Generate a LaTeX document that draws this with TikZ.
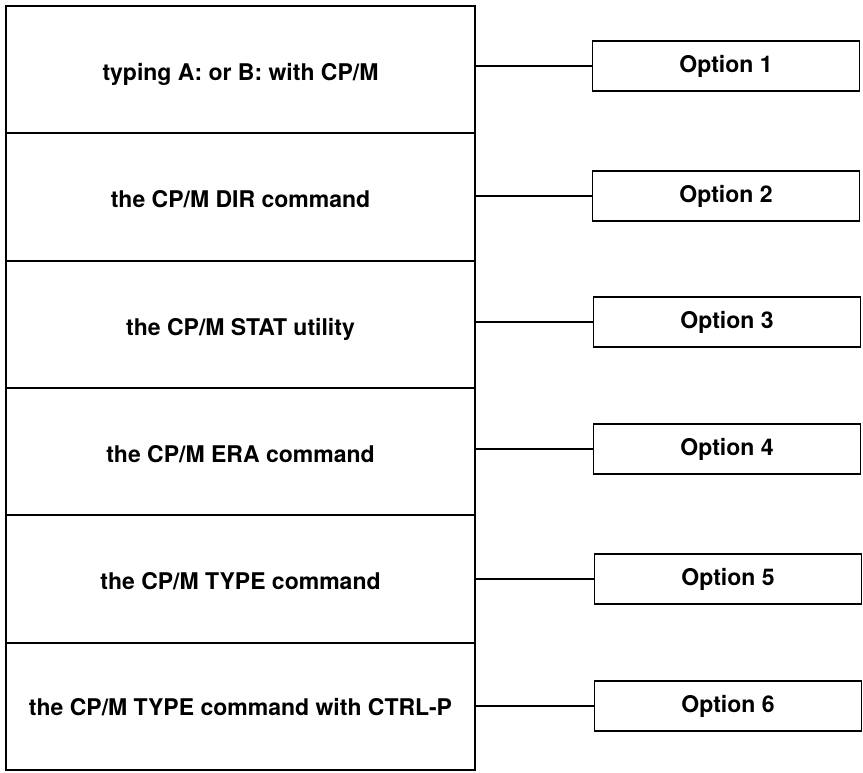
\documentclass[tikz,border=0pt]{standalone}
\usepackage{fontspec}
\setmainfont{TeX Gyre Heros}
\begin{document}
\begin{tikzpicture}[x=1pt,y=-1pt,
  rowbox/.style={draw, line width=1.8pt, minimum width=469pt, minimum height=127.33pt, inner sep=0pt, font=\fontsize{23}{27}\selectfont\bfseries, anchor=center},
  rowtext/.style={text height=16.5pt, text depth=0pt, anchor=center, inner sep=0pt, font=\fontsize{23}{27}\selectfont\bfseries},
  optbox/.style={draw, line width=1.6pt, minimum width=267pt, minimum height=50pt, inner sep=0pt, font=\fontsize{23}{27}\selectfont\bfseries},
  link/.style={line width=1.6pt}]
\useasboundingbox (0,0) rectangle (863,772);
\node[rowbox] (r1) at (240.5,69.67) {};
\node[rowbox] (r2) at (240.5,197.0) {};
\node[rowbox] (r3) at (240.5,324.33) {};
\node[rowbox] (r4) at (240.5,451.67) {};
\node[rowbox] (r5) at (240.5,579.0) {};
\node[rowbox] (r6) at (240.5,706.33) {};
\node[rowtext] (t1) at ([yshift=-2.5pt]r1.center) {typing A: or B: with CP/M};
\node[rowtext] (t2) at ([yshift=-2.5pt]r2.center) {the CP/M DIR command};
\node[rowtext] (t3) at ([yshift=-2.5pt]r3.center) {the CP/M STAT utility};
\node[rowtext] (t4) at ([yshift=-2.5pt]r4.center) {the CP/M ERA command};
\node[rowtext] (t5) at ([yshift=-2.5pt]r5.center) {the CP/M TYPE command};
\node[rowtext] (t6) at ([yshift=-1pt]r6.center) {the CP/M TYPE command with CTRL-P};
\node[optbox] (o1) at (726,66) {Option 1};
\node[optbox] (o2) at (726,196) {Option 2};
\node[optbox] (o3) at (727,322) {Option 3};
\node[optbox] (o4) at (727,449) {Option 4};
\node[optbox] (o5) at (728,579) {Option 5};
\node[optbox] (o6) at (728,706) {Option 6};
\foreach \i in {1,...,6}{
  \draw[link] (r\i.east |- o\i.west) -- (o\i.west);
}
\end{tikzpicture}
\end{document}
